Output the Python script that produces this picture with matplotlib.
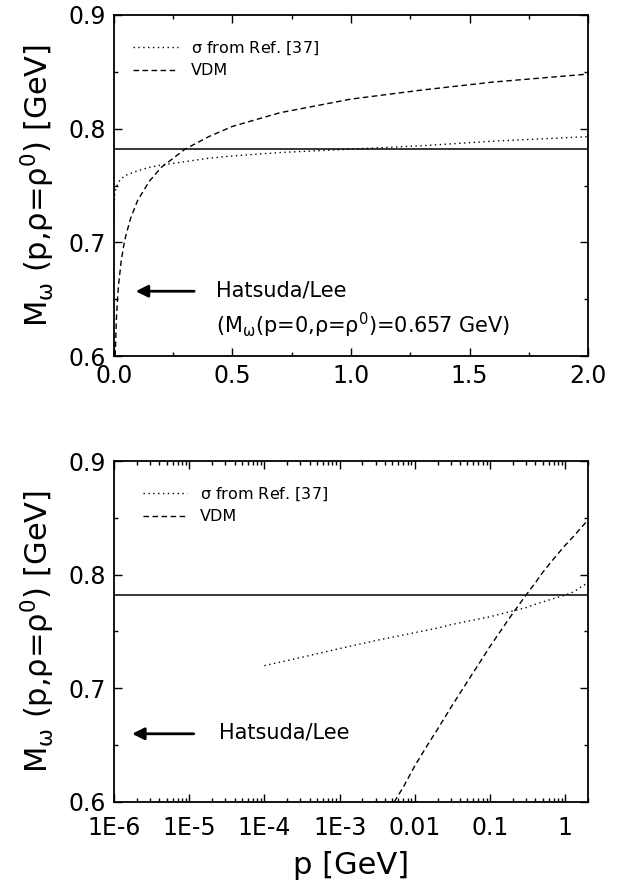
import numpy as np
import matplotlib.pyplot as plt
from matplotlib.ticker import MultipleLocator, FixedLocator, LogLocator, NullFormatter

plt.rcParams['font.family'] = ['DejaVu Sans']
plt.rcParams['mathtext.fontset'] = 'dejavusans'
plt.rcParams['mathtext.default'] = 'regular'

# sigma from Ref. [37] (dotted)
p_sigma = [1e-4, 3e-4, 1e-3, 3e-3, 0.01, 0.02, 0.03, 0.05, 0.1, 0.15, 0.2, 0.3,
           0.4, 0.5, 0.7, 1.0, 1.3, 1.6, 2.0]
m_sigma = [0.720, 0.727, 0.735, 0.742, 0.749, 0.753, 0.756, 0.759, 0.763, 0.766,
           0.768, 0.771, 0.774, 0.776, 0.779, 0.782, 0.785, 0.789, 0.793]

# VDM (dashed)
p_vdm = [0.0053, 0.007, 0.01, 0.015, 0.02, 0.03, 0.04, 0.05, 0.07, 0.1, 0.15,
         0.2, 0.3, 0.4, 0.5, 0.7, 1.0, 1.3, 1.6, 2.0]
m_vdm = [0.600, 0.613, 0.632, 0.651, 0.664, 0.683, 0.696, 0.706, 0.721, 0.737,
         0.754, 0.766, 0.782, 0.793, 0.802, 0.814, 0.826, 0.834, 0.841, 0.848]

m_omega = 0.782      # vacuum omega mass (solid line)
m_hatsuda = 0.657    # Hatsuda/Lee arrow

log_ticks = [1e-6, 1e-5, 1e-4, 1e-3, 0.01, 0.1, 1]
log_labels = ['1E-6', '1E-5', '1E-4', '1E-3', '0.01', '0.1', '1']

ylab = r'M$_{\omega}$ (p,$\rho$=$\rho^{0}$) [GeV]'

fig = plt.figure(figsize=(6.26, 8.91), dpi=100)
ax1 = fig.add_axes([0.1821, 0.6004, 0.7572, 0.3828])
ax2 = fig.add_axes([0.1821, 0.0999, 0.7572, 0.3827])


def style(ax):
    for s in ax.spines.values():
        s.set_linewidth(1.3)
    ax.tick_params(which='both', direction='in', top=True, right=True,
                   labelsize=17, width=1.0)
    ax.tick_params(which='major', length=6, pad=6)
    ax.tick_params(which='minor', length=3)
    ax.set_ylim(0.6, 0.9)
    ax.yaxis.set_major_locator(MultipleLocator(0.1))
    ax.yaxis.set_minor_locator(MultipleLocator(0.05))
    ax.set_ylabel(ylab, fontsize=22, labelpad=8)
    ax.axhline(m_omega, color='black', lw=1.1)


# top panel: linear p
ax1.plot(p_sigma, m_sigma, color='black', ls=(0, (1, 2.5)), lw=1.0,
         label=r'$\sigma$ from Ref. [37]')
ax1.plot(p_vdm, m_vdm, color='black', ls=(0, (4, 2.5)), lw=1.0, label='VDM')
ax1.set_xlim(0, 2.0)
ax1.xaxis.set_major_locator(MultipleLocator(0.5))
ax1.xaxis.set_minor_locator(MultipleLocator(0.25))
style(ax1)
ax1.annotate('', xy=(0.08, m_hatsuda), xytext=(0.35, m_hatsuda),
             arrowprops=dict(arrowstyle='-|>', color='black', lw=2,
                             mutation_scale=18))
ax1.text(0.43, 0.658, 'Hatsuda/Lee', fontsize=15, va='center')
ax1.text(0.43, 0.627,
         r'(M$_{\omega}$(p=0,$\rho$=$\rho^{0}$)=0.657 GeV)',
         fontsize=15, va='center')
ax1.legend(loc='upper left', bbox_to_anchor=(0.01, 0.97), frameon=False,
           fontsize=11.5, handlelength=2.8, handletextpad=0.8,
           labelspacing=0.4)

# bottom panel: log p
ax2.plot(p_sigma, m_sigma, color='black', ls=(0, (1, 2.5)), lw=1.0,
         label=r'$\sigma$ from Ref. [37]')
ax2.plot(p_vdm, m_vdm, color='black', ls=(0, (4, 2.5)), lw=1.0, label='VDM')
ax2.set_xscale('log')
ax2.set_xlim(1e-6, 2.0)
ax2.xaxis.set_major_locator(FixedLocator(log_ticks))
ax2.set_xticklabels(log_labels)
ax2.xaxis.set_minor_locator(LogLocator(base=10, subs=np.arange(2, 10), numticks=20))
ax2.xaxis.set_minor_formatter(NullFormatter())
style(ax2)
ax2.tick_params(axis='x', which='major', pad=10)
ax2.annotate('', xy=(1.6e-6, m_hatsuda + 0.003), xytext=(1.25e-5, m_hatsuda + 0.003),
             arrowprops=dict(arrowstyle='-|>', color='black', lw=2,
                             mutation_scale=18))
ax2.text(2.5e-5, 0.661, 'Hatsuda/Lee', fontsize=15, va='center')
ax2.legend(loc='upper left', bbox_to_anchor=(0.03, 0.97), frameon=False,
           fontsize=11.5, handlelength=2.8, handletextpad=0.8,
           labelspacing=0.4)
ax2.set_xlabel('p [GeV]', fontsize=22, labelpad=8)

fig.savefig('out.png', dpi=100)
